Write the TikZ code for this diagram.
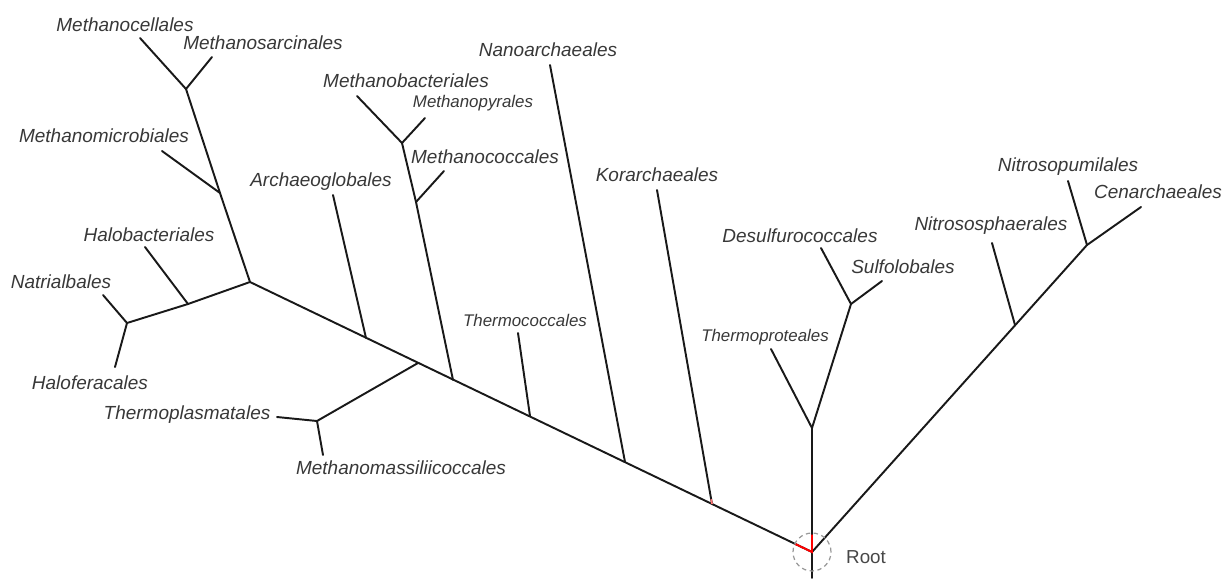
\documentclass[tikz,border=0pt]{standalone}
\usepackage{fontspec}
\setsansfont{Liberation Sans}
\usetikzlibrary{positioning, calc}

\begin{document}
\begin{tikzpicture}[
    x=0.02cm, y=-0.02cm,
    taxon/.style={font=\fontsize{10.8}{12}\selectfont\sffamily\itshape, text=black!78, inner sep=0pt},
    taxonsm/.style={taxon, font=\fontsize{9.6}{11}\selectfont\sffamily\itshape},
    branch/.style={line width=1.1pt, black!90, line cap=round},
    rootbranch/.style={line width=1.1pt, red},
    rootring/.style={draw, dashed, gray!80, line width=0.7pt, dash pattern=on 2.5pt off 2pt},
]
    \useasboundingbox (0,0) rectangle (1224,579);

    % Root and trunks
    \coordinate (root) at (812,552);
    \coordinate (base) at (812,578);
    \coordinate (hub) at (250,282);
    \coordinate (cren) at (812,428);
    \coordinate (thaum) at (1087,245);

    % Joins on the left trunk
    \coordinate (kor) at (712,504);
    \coordinate (nano) at (625,462);
    \coordinate (tcoc) at (530,416);
    \coordinate (mcoc) at (453,380);
    \coordinate (tpla) at (418,363);
    \coordinate (arch) at (366,338);

    % Inner joins
    \coordinate (mmic) at (220,193);
    \coordinate (msar) at (186,89);
    \coordinate (hbac) at (188,304);
    \coordinate (nat) at (127,323);
    \coordinate (tplaj) at (317,421);
    \coordinate (mcocj) at (416,202);
    \coordinate (mbac) at (402,143);
    \coordinate (sulj) at (851,304);
    \coordinate (nsph) at (1015,325);

    % Tips
    \coordinate (tMcel) at (140,38);
    \coordinate (tMsar) at (212,57);
    \coordinate (tMmic) at (162,151);
    \coordinate (tHbac) at (145,247);
    \coordinate (tNatr) at (103,295);
    \coordinate (tHfer) at (115,367);
    \coordinate (tTpla) at (277,417);
    \coordinate (tMmas) at (323,455);
    \coordinate (tArch) at (333,195);
    \coordinate (tMbac) at (357,96);
    \coordinate (tMpyr) at (425,118);
    \coordinate (tMcoc) at (444,171);
    \coordinate (tNano) at (550,65);
    \coordinate (tTcoc) at (518,333);
    \coordinate (tKor) at (657,190);
    \coordinate (tTpro) at (771,349);
    \coordinate (tDesu) at (821,248);
    \coordinate (tSulf) at (882,281);
    \coordinate (tNsph) at (992,243);
    \coordinate (tNpum) at (1068,181);
    \coordinate (tCena) at (1141,207);

    % Labels
    \node[taxon] (Mcel) at (125,25) {Methanocellales};
    \node[taxon] (Msar) at (263,43) {Methanosarcinales};
    \node[taxon] (Mmic) at (104,136) {Methanomicrobiales};
    \node[taxon] (Hbac) at (149,235) {Halobacteriales};
    \node[taxon] (Natr) at (61,282) {Natrialbales};
    \node[taxon] (Hfer) at (90,383) {Haloferacales};
    \node[taxon] (Tpla) at (187,415) {Thermoplasmatales};
    \node[taxon] (Mmas) at (401,468) {Methanomassiliicoccales};
    \node[taxon] (Arch) at (321,182) {Archaeoglobales};
    \node[taxon] (Mbac) at (406,81) {Methanobacteriales};
    \node[taxonsm] (Mpyr) at (473,103) {Methanopyrales};
    \node[taxon] (Mcoc) at (485,157) {Methanococcales};
    \node[taxon] (Nano) at (548,50) {Nanoarchaeales};
    \node[taxonsm] (Tcoc) at (525,320) {Thermococcales};
    \node[taxon] (Kor) at (657,175) {Korarchaeales};
    \node[taxonsm] (Tpro) at (765,337) {Thermoproteales};
    \node[taxon] (Desu) at (800,236) {Desulfurococcales};
    \node[taxon] (Sulf) at (903,267) {Sulfolobales};
    \node[taxon] (Nsph) at (991,226) {Nitrososphaerales};
    \node[taxon] (Npum) at (1068,167) {Nitrosopumilales};
    \node[taxon] (Cena) at (1158,192) {Cenarchaeales};

    % Euryarchaeota side
    \draw[branch] (base) -- (root) -- (hub);
    \draw[branch] (hub) -- (mmic) -- (msar);
    \draw[branch] (msar) -- (tMcel);
    \draw[branch] (msar) -- (tMsar);
    \draw[branch] (mmic) -- (tMmic);
    \draw[branch] (hub) -- (hbac) -- (nat);
    \draw[branch] (hbac) -- (tHbac);
    \draw[branch] (nat) -- (tNatr);
    \draw[branch] (nat) -- (tHfer);
    \draw[branch] (tpla) -- (tplaj);
    \draw[branch] (tplaj) -- (tTpla);
    \draw[branch] (tplaj) -- (tMmas);
    \draw[branch] (arch) -- (tArch);
    \draw[branch] (mcoc) -- (mcocj) -- (mbac);
    \draw[branch] (mbac) -- (tMbac);
    \draw[branch] (mbac) -- (tMpyr);
    \draw[branch] (mcocj) -- (tMcoc);
    \draw[branch] (tcoc) -- (tTcoc);
    \draw[branch] (nano) -- (tNano);
    \draw[branch] (kor) -- (tKor);

    % Crenarchaeota
    \draw[branch] (root) -- (cren) -- (sulj);
    \draw[branch] (cren) -- (tTpro);
    \draw[branch] (sulj) -- (tDesu);
    \draw[branch] (sulj) -- (tSulf);

    % Thaumarchaeota
    \draw[branch] (root) -- (thaum);
    \draw[branch] (nsph) -- (tNsph);
    \draw[branch] (thaum) -- (tNpum);
    \draw[branch] (thaum) -- (tCena);

    % Root marks
    \draw[rootbranch] ($(root)!0.03!(hub)$) -- (root) -- ($(root)!0.14!(cren)$);
    \draw[line width=1pt, red!55] (kor) -- ($(kor)!0.015!(tKor)$);
    \node[rootring, circle, minimum size=0.76cm, inner sep=0pt] (ring) at (root) {};
    \node[font=\fontsize{10.7}{12}\selectfont\sffamily, text=black!72, anchor=west] (rootlbl) at (840,557) {Root};
\end{tikzpicture}
\end{document}
